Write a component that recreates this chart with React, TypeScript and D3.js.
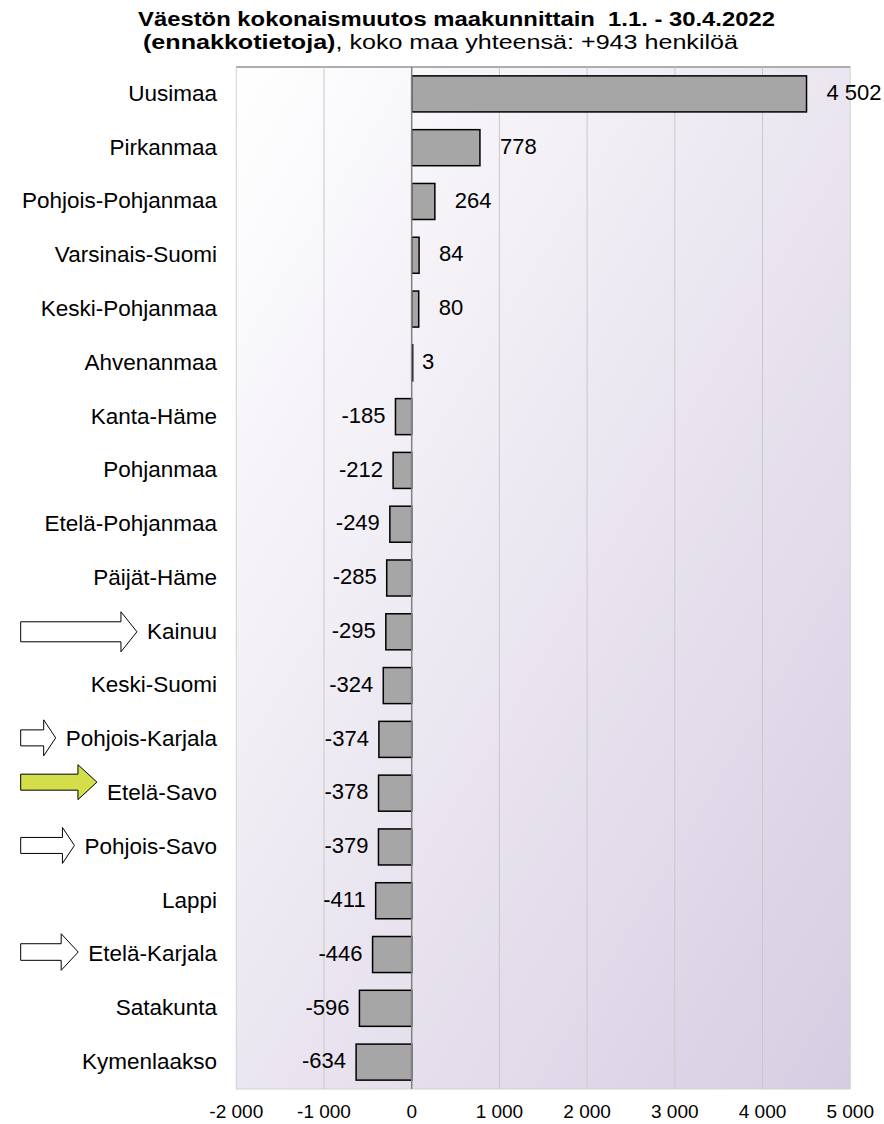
import * as d3 from 'd3';
import { useMemo } from 'react';

// maakunnat, järjestyksessä ylhäältä alas
const regions = [
  'Uusimaa', 'Pirkanmaa', 'Pohjois-Pohjanmaa', 'Varsinais-Suomi', 'Keski-Pohjanmaa',
  'Ahvenanmaa', 'Kanta-Häme', 'Pohjanmaa', 'Etelä-Pohjanmaa', 'Päijät-Häme',
  'Kainuu', 'Keski-Suomi', 'Pohjois-Karjala', 'Etelä-Savo', 'Pohjois-Savo',
  'Lappi', 'Etelä-Karjala', 'Satakunta', 'Kymenlaakso',
];
const change = [
  4502, 778, 264, 84, 80,
  3, -185, -212, -249, -285,
  -295, -324, -374, -378, -379,
  -411, -446, -596, -634,
];
const xTicks = [-2000, -1000, 0, 1000, 2000, 3000, 4000, 5000];

// nuolet nimien edessä
const arrows = [
  { name: 'Kainuu', fill: '#ffffff', shaft: 10, head: 20, headLen: 16, dy: 0 },
  { name: 'Pohjois-Karjala', fill: '#ffffff', shaft: 8, head: 18, headLen: 12, dy: -1.5 },
  { name: 'Etelä-Savo', fill: '#d3de4a', shaft: 8, head: 17.5, headLen: 19, dy: -11 },
  { name: 'Pohjois-Savo', fill: '#ffffff', shaft: 8, head: 18, headLen: 12, dy: -1.5 },
  { name: 'Etelä-Karjala', fill: '#ffffff', shaft: 8.3, head: 18.3, headLen: 17, dy: -2.5 },
];

const W = 884;
const H = 1124;
const plot = { left: 236.3, right: 850.2, top: 67, bottom: 1089 };
const labelRight = 217;
const labelSize = 22.5;
const font = 'Arial, "Liberation Sans", sans-serif';

const fi = d3.formatLocale({ decimal: ',', thousands: '\u00a0', grouping: [3], currency: ['', ''], minus: '-' });
const fmt = fi.format(',d');

function textWidth(s: string, size: number) {
  const ctx = document.createElement('canvas').getContext('2d');
  if (!ctx) return s.length * size * 0.5;
  ctx.font = `${size}px Arial, "Liberation Sans", sans-serif`;
  return ctx.measureText(s).width;
}

export default function App() {
  const x = d3.scaleLinear().domain([-2000, 5000]).range([plot.left, plot.right]);
  const y = d3.scaleBand<string>().domain(regions).range([plot.top, plot.bottom])
    .paddingInner(0.33).paddingOuter(0.165);
  const bw = y.bandwidth();

  const arrowPaths = useMemo(() => arrows.map((a) => {
    const cy = (y(a.name) ?? 0) + bw / 2 + a.dy;
    const tip = labelRight - textWidth(a.name, labelSize) - 10;
    const L = 20.7;
    const B = tip - a.headLen;
    const p = d3.path();
    p.moveTo(L, cy - a.shaft);
    p.lineTo(B, cy - a.shaft);
    p.lineTo(B, cy - a.head);
    p.lineTo(tip, cy);
    p.lineTo(B, cy + a.head);
    p.lineTo(B, cy + a.shaft);
    p.lineTo(L, cy + a.shaft);
    p.closePath();
    return { d: p.toString(), fill: a.fill };
  }), []);

  return (
    <svg width={W} height={H} style={{ position: 'absolute', left: 0, top: 0 }} fontFamily={font}>
      <defs>
        <linearGradient id="bg" x1="0" y1="0" x2="1" y2="1">
          <stop offset="0" stopColor="#ffffff" />
          <stop offset="1" stopColor="#d6cde2" />
        </linearGradient>
      </defs>
      <rect width={W} height={H} fill="#fff" />

      <text x={138} y={26} fontSize={20} fontWeight="bold" textLength={637} lengthAdjust="spacingAndGlyphs">
        {'Väestön kokonaismuutos maakunnittain \u00a01.1. - 30.4.2022'}
      </text>
      <text x={143} y={49} fontSize={20} textLength={595} lengthAdjust="spacingAndGlyphs">
        <tspan fontWeight="bold">(ennakkotietoja)</tspan>, koko maa yhteensä: +943 henkilöä
      </text>

      <rect x={plot.left} y={plot.top} width={plot.right - plot.left} height={plot.bottom - plot.top}
        fill="url(#bg)" stroke="#d2d2d2" strokeWidth={1} />
      <line x1={plot.left} x2={plot.right} y1={plot.top} y2={plot.top} stroke="#9a9a9a" strokeWidth={1.5} />

      {xTicks.filter((t) => t !== 0 && t !== -2000 && t !== 5000).map((t) => (
        <line key={t} x1={x(t)} x2={x(t)} y1={plot.top} y2={plot.bottom} stroke="#c8c8c8" strokeWidth={1} />
      ))}

      {regions.map((r, i) => {
        const v = change[i];
        const x0 = x(Math.min(0, v));
        const x1 = x(Math.max(0, v));
        const yc = (y(r) ?? 0) + bw / 2;
        return (
          <g key={r}>
            <rect x={x0} y={y(r)} width={Math.max(x1 - x0, 1)} height={bw}
              fill="#a6a6a6" stroke="#000" strokeWidth={1.5} />
            <text x={v >= 0 ? x1 + (v < 10 ? 10 : 20) : x0 - 10} y={yc - 1.5} dy="0.35em"
              fontSize={22} textAnchor={v >= 0 ? 'start' : 'end'} fill="#000">
              {fmt(v)}
            </text>
            <text x={labelRight} y={yc - 1} dy="0.35em" fontSize={labelSize} textAnchor="end" fill="#000">
              {r}
            </text>
          </g>
        );
      })}

      <line x1={x(0)} x2={x(0)} y1={plot.top} y2={plot.bottom} stroke="#808080" strokeWidth={1.5} />

      {xTicks.map((t) => (
        <text key={t} x={x(t)} y={1118} fontSize={19} textAnchor="middle" fill="#000">{fmt(t)}</text>
      ))}

      {arrowPaths.map((a, i) => (
        <path key={i} d={a.d} fill={a.fill} stroke="#000" strokeWidth={1} strokeLinejoin="miter" />
      ))}
    </svg>
  );
}
